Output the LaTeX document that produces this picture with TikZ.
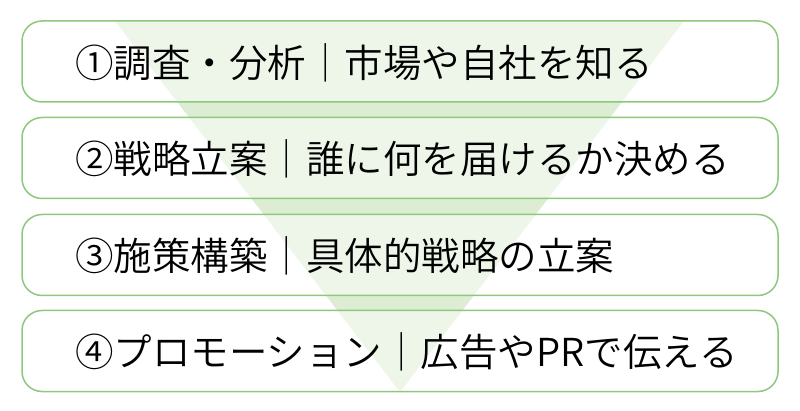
\documentclass[tikz,border=0pt]{standalone}
\usepackage{fontspec}
\setmainfont{Noto Sans CJK JP}[UprightFont=* DemiLight]
\usetikzlibrary{positioning}

\definecolor{stepgreen}{HTML}{8DC97A}
\definecolor{funnelgreen}{HTML}{DCEDD3}

\tikzset{
  stepbox/.style={draw=stepgreen, line width=1.5pt, fill=white, fill opacity=0.5,
    rounded corners=20pt, minimum width=756pt, minimum height=81pt, inner sep=0pt},
  steplabel/.style={anchor=west, inner sep=0pt, font=\fontsize{38.5}{40}\selectfont}
}

\begin{document}
\begin{tikzpicture}[x=1pt,y=-1pt]

\useasboundingbox (0,0) rectangle (800,411);

% funnel behind the steps
\fill[funnelgreen] (115,21) -- (684,21) -- (400,392) -- cycle;

\node[stepbox] (box1) at (400,61.5) {};
\node[stepbox] (box2) at (400,158) {};
\node[stepbox] (box3) at (400,255) {};
\node[stepbox] (box4) at (400,351) {};

\node[steplabel] (step1) at (75,63) {①調査・分析｜市場や自社を知る};
\node[steplabel] (step2) at (75,159) {②戦略立案｜誰に何を届けるか決める};
\node[steplabel] (step3) at (75,256) {③施策構築｜具体的戦略の立案};
\node[steplabel] (step4) at (75,352) {④プロモーション｜広告やPRで伝える};

\end{tikzpicture}
\end{document}
